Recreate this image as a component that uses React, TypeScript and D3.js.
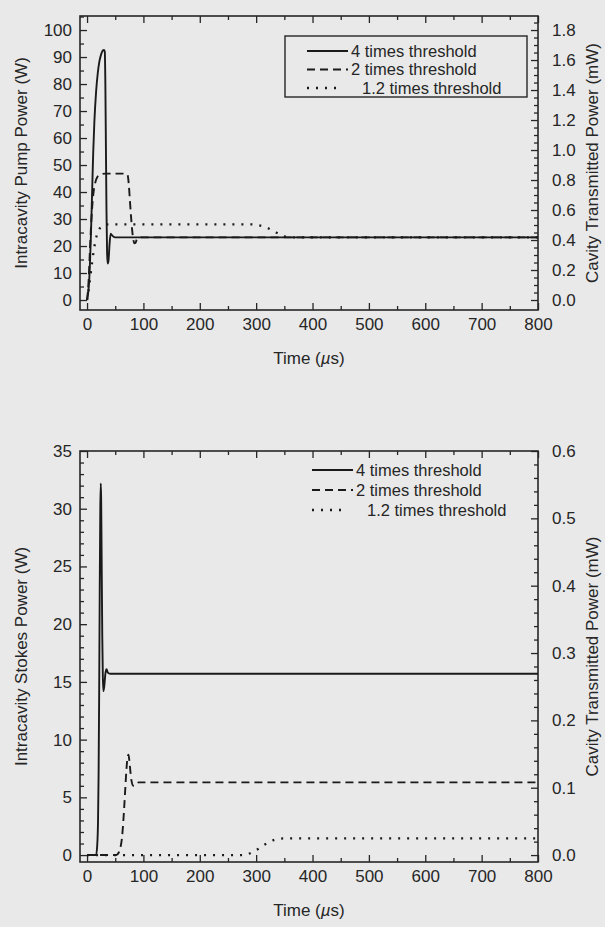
import React, { useEffect, useRef } from 'react'
import * as d3 from 'd3'

type Pt = [number, number]

// time axis (µs)
const timeTicks = [0, 100, 200, 300, 400, 500, 600, 700, 800]
const timeMinor = [50, 150, 250, 350, 450, 550, 650, 750]

// top panel: intracavity pump power (W)
const pumpTicks = [0, 10, 20, 30, 40, 50, 60, 70, 80, 90, 100]
const pumpRightTicks = [0, 0.2, 0.4, 0.6, 0.8, 1.0, 1.2, 1.4, 1.6, 1.8]

const pump4x: Pt[] = [
  [0, 0], [4, 8], [7, 25], [9, 40], [11, 55], [13, 66], [16, 77], [19, 84], [22, 88.5],
  [25, 91], [28, 92.4], [30, 92.6], [31.5, 92], [32.5, 80], [33.5, 56], [34.5, 33],
  [35.5, 18], [36.5, 13.5], [38, 14.5], [40, 21], [42, 24.6], [44.5, 23.9], [48, 23.3],
  [52, 23.2], [800, 23.2],
]
const pump2x: Pt[] = [
  [0, 0], [3, 8], [5, 18], [7, 27], [9, 34], [11, 39], [14, 43], [18, 45.5], [24, 46.5],
  [32, 46.8], [70, 46.8], [72, 46.3], [74, 43], [76, 37], [78, 31], [80, 26], [82, 22.5],
  [84, 21], [86, 21.2], [88, 22.3], [91, 23.1], [95, 23.2], [800, 23.2],
]
const pump12x: Pt[] = [
  [0, 0], [3, 4], [6, 9], [9, 14], [12, 18.5], [15, 22], [18, 24.5], [21, 26], [25, 27.2],
  [30, 27.8], [40, 28], [292, 28], [302, 27.8], [312, 27.3], [322, 26.5], [332, 25.4],
  [342, 24.3], [350, 23.6], [358, 23.3], [366, 23.2], [800, 23.2],
]

// bottom panel: intracavity Stokes power (W)
const stokesTicks = [0, 5, 10, 15, 20, 25, 30, 35]
const stokesRightTicks = [0, 0.1, 0.2, 0.3, 0.4, 0.5, 0.6]

const stokes4x: Pt[] = [
  [0, 0], [16, 0], [18, 0.8], [19.5, 3], [20.5, 7], [21.5, 14], [22.5, 23], [23.5, 30],
  [24.3, 32.2], [25, 31], [26, 25], [27, 19], [28, 15.5], [29, 14.2], [30.5, 14.6],
  [32.5, 15.7], [34.5, 16.1], [37, 15.8], [41, 15.7], [800, 15.7],
]
const stokes2x: Pt[] = [
  [0, 0], [52, 0], [56, 0.2], [59, 0.6], [62, 1.5], [64, 2.7], [66, 4.2], [68, 5.9],
  [70, 7.5], [72, 8.5], [73.5, 8.7], [75, 8.2], [77, 7.2], [79, 6.4], [82, 6.0], [85, 6.0],
  [88, 6.2], [92, 6.3], [800, 6.3],
]
const stokes12x: Pt[] = [
  [0, 0], [278, 0], [286, 0.1], [295, 0.3], [304, 0.55], [313, 0.85], [322, 1.1],
  [331, 1.3], [340, 1.4], [352, 1.45], [800, 1.45],
]

const legendNames = ['4 times threshold', '2 times threshold', '1.2 times threshold']
const dashes = [null, '8,5', '2,7']

const W = 605
const H = 927
const L = 80
const R = 538
const FONT = '"Liberation Sans", Arial, sans-serif'
const INK = '#262626'

const panels = [
  {
    top: 16, bottom: 310,
    yDomain: [-3.7, 105.2], y2Domain: [-3.7 * 0.018, 105.2 * 0.018],
    yTicks: pumpTicks, yMinorStep: 5, y2Ticks: pumpRightTicks, y2MinorStep: 0.05,
    series: [pump4x, pump2x, pump12x],
    yLabel: 'Intracavity Pump Power (W)',
    legend: { x: 285, y: 36, box: true, gap: 18.5 },
  },
  {
    top: 451, bottom: 862,
    yDomain: [-0.6, 35], y2Domain: [-0.6 * 0.6 / 35, 0.6],
    yTicks: stokesTicks, yMinorStep: 1, y2Ticks: stokesRightTicks, y2MinorStep: 0.02,
    series: [stokes4x, stokes2x, stokes12x],
    yLabel: 'Intracavity Stokes Power (W)',
    legend: { x: 290, y: 455, box: false, gap: 20 },
  },
]

function drawPanel(g: any, p: any) {
  const x = d3.scaleLinear().domain([-12.5, 800]).range([L, R])
  const y = d3.scaleLinear().domain(p.yDomain).range([p.bottom, p.top])
  const y2 = d3.scaleLinear().domain(p.y2Domain).range([p.bottom, p.top])

  const yMinor = d3.range(0, p.yDomain[1], p.yMinorStep).filter((v: number) => !p.yTicks.includes(v))
  const y2Minor = d3.range(0, p.y2Domain[1], p.y2MinorStep)
    .filter((v: number) => !p.y2Ticks.some((t: number) => Math.abs(t - v) < 1e-6))

  const styleAxis = (sel: any) => {
    sel.select('.domain').remove()
    sel.selectAll('line').attr('stroke', INK).attr('stroke-width', 1.3)
    sel.selectAll('text').attr('fill', INK).attr('font-size', 17).attr('font-family', FONT)
  }
  const noLabel = () => ''

  // bottom + top of the frame
  g.append('g').attr('transform', `translate(0,${p.bottom})`)
    .call(d3.axisBottom(x).tickValues(timeTicks).tickSize(-7).tickPadding(8).tickFormat(d3.format('d')))
    .call(styleAxis)
  g.append('g').attr('transform', `translate(0,${p.bottom})`)
    .call(d3.axisBottom(x).tickValues(timeMinor).tickSize(-4).tickFormat(noLabel))
    .call(styleAxis)
  g.append('g').attr('transform', `translate(0,${p.top})`)
    .call(d3.axisTop(x).tickValues(timeTicks).tickSize(-7).tickFormat(noLabel))
    .call(styleAxis)
  g.append('g').attr('transform', `translate(0,${p.top})`)
    .call(d3.axisTop(x).tickValues(timeMinor).tickSize(-4).tickFormat(noLabel))
    .call(styleAxis)
  // left
  g.append('g').attr('transform', `translate(${L},0)`)
    .call(d3.axisLeft(y).tickValues(p.yTicks).tickSize(-7).tickPadding(8).tickFormat(d3.format('d')))
    .call(styleAxis)
  g.append('g').attr('transform', `translate(${L},0)`)
    .call(d3.axisLeft(y).tickValues(yMinor).tickSize(-4).tickFormat(noLabel))
    .call(styleAxis)
  // right
  g.append('g').attr('transform', `translate(${R},0)`)
    .call(d3.axisRight(y2).tickValues(p.y2Ticks).tickSize(-7).tickPadding(14).tickFormat(d3.format('.1f')))
    .call(styleAxis)
  g.append('g').attr('transform', `translate(${R},0)`)
    .call(d3.axisRight(y2).tickValues(y2Minor).tickSize(-4).tickFormat(noLabel))
    .call(styleAxis)

  g.append('rect')
    .attr('x', L).attr('y', p.top).attr('width', R - L).attr('height', p.bottom - p.top)
    .attr('fill', 'none').attr('stroke', INK).attr('stroke-width', 1.6)

  const line = d3.line<Pt>().x(d => x(d[0])).y(d => y(d[1])).curve(d3.curveMonotoneX)
  p.series.forEach((s: Pt[], i: number) => {
    g.append('path')
      .attr('d', line(s))
      .attr('fill', 'none')
      .attr('stroke', '#1a1a1a')
      .attr('stroke-width', i === 2 ? 2.3 : 1.9)
      .attr('stroke-dasharray', dashes[i])
  })

  // axis titles
  const cy = (p.top + p.bottom) / 2
  g.append('text')
    .attr('transform', `translate(27,${cy}) rotate(-90)`)
    .attr('text-anchor', 'middle').attr('font-size', 17).attr('font-family', FONT).attr('fill', INK)
    .text(p.yLabel)
  g.append('text')
    .attr('transform', `translate(598,${cy}) rotate(-90)`)
    .attr('text-anchor', 'middle').attr('font-size', 17).attr('font-family', FONT).attr('fill', INK)
    .text('Cavity Transmitted Power (mW)')
  const t = g.append('text')
    .attr('x', (L + R) / 2).attr('y', p.bottom + 54)
    .attr('text-anchor', 'middle').attr('font-size', 17).attr('font-family', FONT).attr('fill', INK)
  t.append('tspan').text('Time (')
  t.append('tspan').attr('font-style', 'italic').text('µ')
  t.append('tspan').text('s)')

  // legend
  const lg = g.append('g').attr('transform', `translate(${p.legend.x},${p.legend.y})`)
  if (p.legend.box) {
    lg.append('rect').attr('width', 242).attr('height', 61)
      .attr('fill', 'none').attr('stroke', INK).attr('stroke-width', 1.4)
  }
  legendNames.forEach((name, i) => {
    const ry = 15 + i * p.legend.gap
    lg.append('line')
      .attr('x1', 22).attr('x2', i === 2 ? 55 : 63).attr('y1', ry).attr('y2', ry)
      .attr('stroke', '#1a1a1a').attr('stroke-width', i === 2 ? 2.3 : 1.9)
      .attr('stroke-dasharray', dashes[i])
    lg.append('text')
      .attr('x', i === 2 ? 77 : 66).attr('y', ry).attr('dy', '0.35em')
      .attr('font-size', 16.5).attr('font-family', FONT).attr('fill', INK)
      .text(name)
  })
}

export default function App() {
  const svgRef = useRef<SVGSVGElement>(null)

  useEffect(() => {
    const svg = d3.select(svgRef.current)
    svg.selectAll('*').remove()
    svg.append('rect').attr('width', W).attr('height', H).attr('fill', '#e9e9e9')
    panels.forEach(p => drawPanel(svg.append('g'), p))
  }, [])

  return (
    <svg
      ref={svgRef}
      width={W}
      height={H}
      style={{ position: 'absolute', left: 0, top: 0, display: 'block' }}
    />
  )
}
